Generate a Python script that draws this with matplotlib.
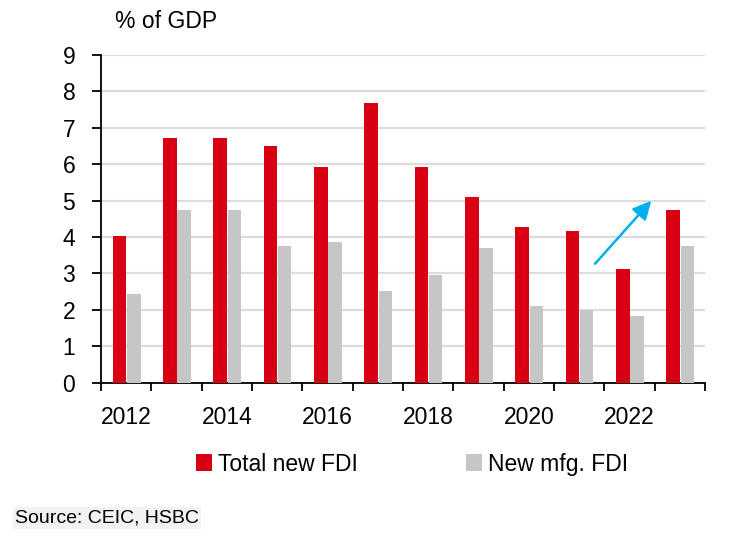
import numpy as np
import matplotlib.pyplot as plt

plt.rcParams['font.family'] = ['Liberation Sans', 'DejaVu Sans']

years = [2012, 2013, 2014, 2015, 2016, 2017, 2018, 2019, 2020, 2021, 2022, 2023]
total_fdi = [4.04, 6.73, 6.73, 6.50, 5.91, 7.68, 5.91, 5.09, 4.27, 4.16, 3.11, 4.74]
mfg_fdi = [2.45, 4.74, 4.74, 3.75, 3.87, 2.51, 2.97, 3.69, 2.10, 1.99, 1.82, 3.75]
yticks = [0, 1, 2, 3, 4, 5, 6, 7, 8, 9]

red = '#DA0013'
grey = '#C6C6C6'

fig = plt.figure(figsize=(7.32, 5.43), dpi=100)
ax = fig.add_axes([0.138, 0.295, 0.825, 0.604])

x = np.arange(len(years))
w = 0.27
ax.bar(x - 0.13, total_fdi, w, color=red, label='Total new FDI', zorder=3)
ax.bar(x + 0.15, mfg_fdi, w, color=grey, label='New mfg. FDI', zorder=3)

ax.set_xlim(-0.5, len(years) - 0.5)
ax.set_ylim(0, 9)
ax.set_yticks(yticks)
ax.yaxis.grid(True, color='#DCDCDC', linewidth=1.6, zorder=0)
ax.set_axisbelow(True)

ax.set_xticks(x[::2])
ax.set_xticklabels([str(y) for y in years[::2]])
ax.set_xticks(np.arange(-0.5, len(years)), minor=True)
ax.tick_params(axis='x', which='major', length=0, pad=17, labelsize=16.5)
ax.tick_params(axis='x', which='minor', length=6, width=1.3, direction='out')
ax.tick_params(axis='y', length=6.5, width=1.3, labelsize=16.5, pad=12)

for s in ['top', 'right']:
    ax.spines[s].set_visible(False)
ax.spines['left'].set_linewidth(1.3)
ax.spines['bottom'].set_linewidth(1.3)

ax.annotate('', xy=(10.47, 5.05), xytext=(9.28, 3.21),
            arrowprops=dict(arrowstyle='-|>,head_length=1.1,head_width=0.55',
                            color='#00AEEF', lw=1.8), zorder=5)

fig.text(0.157, 0.961, '% of GDP', fontsize=16.5, va='center', ha='left')

ax.legend(loc='upper center', bbox_to_anchor=(0.515, -0.15), ncol=2, frameon=False,
          fontsize=16.5, handlelength=0.72, handleheight=0.72, handletextpad=0.25,
          columnspacing=4.7)

fig.text(0.02, 0.046, 'Source: CEIC, HSBC', fontsize=14, va='center', ha='left',
         bbox=dict(facecolor='#F2F2F2', edgecolor='none', pad=1.5))

fig.savefig('out.png', dpi=100)
